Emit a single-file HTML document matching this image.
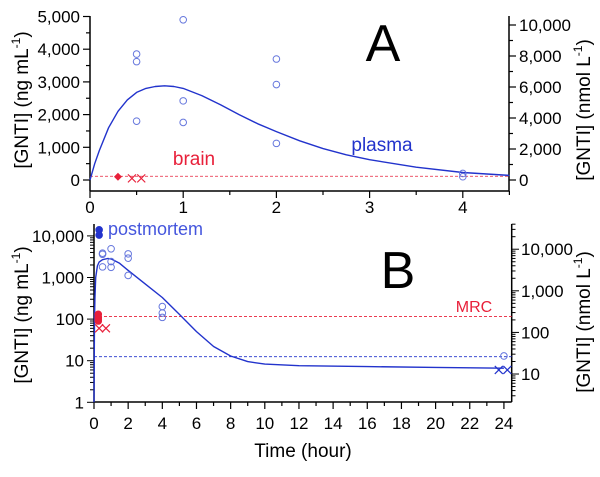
<!DOCTYPE html>
<html><head><meta charset="utf-8"><style>
body{margin:0;background:#fff}
svg{display:block;font-family:"Liberation Sans",Arial,sans-serif}
</style></head><body>
<svg id="c" width="600" height="477" viewBox="0 0 600 477"></svg>
<script>
// ---- Panel A data ----
const aTimes=[0.5,0.5,0.5,1,1,1,2,2,2,4,4];
const aPlasma=[3850,3620,1800,4900,2420,1760,3700,2920,1120,200,100];
const aBrainDiamondT=[0.3], aBrainDiamondV=[100];
const aBrainXT=[0.45,0.55], aBrainXV=[50,50];
const aCurveT=[0,0.05,0.1,0.2,0.3,0.4,0.5,0.6,0.7,0.8,0.9,1.0,1.2,1.4,1.6,1.8,2.0,2.25,2.5,2.75,3.0,3.5,4.0,4.5];
const aCurveV=[0,500,900,1600,2100,2450,2680,2800,2860,2880,2860,2800,2580,2300,2000,1720,1480,1200,960,770,620,390,230,140];
const aXTicks=[0,1,2,3,4], aYTicks=[0,1000,2000,3000,4000,5000], aRTicks=[0,2000,4000,6000,8000,10000];
const mrc=115;
// ---- Panel B data ----
const bTimes=[0.5,0.5,0.5,1,1,1,2,2,2,4,4,4,24];
const bPlasma=[3850,3620,1800,4900,2420,1760,3700,2920,1120,200,140,110,13];
const bPostT=[0.3,0.3], bPostV=[14000,10500];
const bBrainT=[0.25,0.25,0.25,0.25], bBrainV=[130,110,100,90];
const bBrainXT=[0.3,0.7], bBrainXV=[60,60];
const bLowXT=[23.7,24.2], bLowXV=[6,6];
const bCurveT=[0,0.03,0.05,0.1,0.2,0.3,0.5,0.8,1,1.5,2,3,4,5,6,7,8,9,10,12,16,20,24];
const bCurveV=[1,100,300,1000,1900,2350,2680,2870,2800,2200,1480,700,330,130,50,22,13,9.5,8.3,7.6,7.2,6.9,6.6];
const lod=12.5;
const bXTicks=[0,2,4,6,8,10,12,14,16,18,20,22,24];
const bYTicks=[1,10,100,1000,10000], bRTicks=[10,100,1000,10000];
const ratio=2.09;

const NS="http://www.w3.org/2000/svg", svg=document.getElementById('c');
function mk(tag,at,parent){const e=document.createElementNS(NS,tag);for(const k in at)e.setAttribute(k,at[k]);(parent||svg).appendChild(e);return e;}
const BLUE="#2233cc", LBLUE="#6677dd", RED="#e8203a";
const fmt=v=>v.toLocaleString('en-US');

const axA=t=>90+t*93.2, ayA=v=>180-v*0.0327, ayAR=n=>180-n*0.0155;
const axB=t=>94+t*17.08, ayB=v=>402.3-Math.log10(v)*41.6, ayBR=n=>ayB(n/ratio);

function line(x1,y1,x2,y2,c,w,dash,name){const l=mk('line',{x1,y1,x2,y2,stroke:c,'stroke-width':w||1});if(dash)l.setAttribute('stroke-dasharray',dash);return l;}
function text(x,y,s,size,anchor,fill,name){const t=mk('text',{x,y,'font-size':size,'text-anchor':anchor||'middle',fill:fill||'#000'});t.textContent=s;return t;}
function circle(x,y,fill,name){const c=mk('circle',{cx:x,cy:y,r:3.3,fill:fill?fill:'none',stroke:fill?fill:LBLUE,'stroke-width':1});}
function cross(x,y,c,name){const p=mk('path',{d:`M${x-4},${y-4}L${x+4},${y+4}M${x-4},${y+4}L${x+4},${y-4}`,stroke:c,'stroke-width':1.2,fill:'none'});}
function ylabel(x,y,main,name){const t=mk('text',{transform:`translate(${x},${y}) rotate(-90)`,'font-size':19,'text-anchor':'middle'});t.innerHTML=`[GNTI] (${main}<tspan font-size="12" dy="-8">-1</tspan><tspan dy="8">)</tspan>`;}

// ===== Panel A =====
line(90,16,90,191,'#000',1.5,null,'a-left-axis');
line(509,16,509,191,'#000',1.5,null,'a-right-axis');
line(90,191,509,191,'#000',1.5,null,'a-x-axis');
for(let t=0;t<=4.5;t+=0.5){const big=Number.isInteger(t);line(axA(t),191,axA(t),big?198:195,'#000',1.2,null,'a-x-tick');}
aXTicks.forEach(t=>text(axA(t),213,String(t),17,'middle','#000','a-x-tick-label'));
for(let v=0;v<=5000;v+=500){const big=v%1000===0;line(90,ayA(v),big?83:86,ayA(v),'#000',1.2,null,'a-y-tick');}
aYTicks.forEach(v=>text(80,ayA(v)+6,fmt(v),17,'end','#000','a-y-tick-label'));
for(let n=0;n<=10000;n+=1000){const big=n%2000===0;line(509,ayAR(n),big?516:513,ayAR(n),'#000',1.2,null,'a-right-tick');}
aRTicks.forEach(n=>text(519,ayAR(n)+6,fmt(n),17,'start','#000','a-right-tick-label'));
ylabel(28,100,'ng mL','a-left-axis-title');
ylabel(590,110,'nmol L','a-right-axis-title');
line(90,ayA(mrc),509,ayA(mrc),RED,0.8,'3,2','a-mrc-line');
{let d='';aCurveT.forEach((t,i)=>d+=(i?'L':'M')+axA(t).toFixed(1)+','+ayA(aCurveV[i]).toFixed(1));const p=mk('path',{d,fill:'none',stroke:BLUE,'stroke-width':1.4,'stroke-linejoin':'round'});}
aTimes.forEach((t,i)=>circle(axA(t),ayA(aPlasma[i]),null,'a-plasma-point'));
aBrainDiamondT.forEach((t,i)=>{const x=axA(t),y=ayA(aBrainDiamondV[i]);const p=mk('path',{d:`M${x},${y-4}L${x+4},${y}L${x},${y+4}L${x-4},${y}Z`,fill:RED});});
aBrainXT.forEach((t,i)=>cross(axA(t),ayA(aBrainXV[i]),RED,'a-brain-cross'));
text(383,61,'A',52,'middle','#000','a-panel-label');
text(382,151,'plasma',19,'middle',BLUE,'a-plasma-label');
text(194,165,'brain',19,'middle',RED,'a-brain-label');

// ===== Panel B =====
line(94,224,94,402,'#000',1.5,null,'b-left-axis');
line(511.7,224,511.7,402,'#000',1.5,null,'b-right-axis');
line(94,402,511.7,402,'#000',1.5,null,'b-x-axis');
for(let t=0;t<=24;t+=1){const big=t%2===0;line(axB(t),402,axB(t),big?409:406,'#000',1.2,null,'b-x-tick');}
bXTicks.forEach(t=>text(axB(t),429,String(t),17,'middle','#000','b-x-tick-label'));
for(let d=1;d<=10000;d*=10){for(let m=1;m<10;m++){const v=d*m;const y=ayB(v);if(y<224)break;line(94,y,m===1?87:90,y,'#000',1,null,'b-y-tick');}}
bYTicks.forEach(v=>text(84,ayB(v)+6,fmt(v),17,'end','#000','b-y-tick-label'));
for(let d=1;d<=10000;d*=10){for(let m=1;m<10;m++){const n=d*m;const y=ayBR(n);if(y>402||y<224)continue;line(511.7,y,m===1?519:515.5,y,'#000',1,null,'b-right-tick');}}
bRTicks.forEach(n=>text(521,ayBR(n)+6,fmt(n),17,'start','#000','b-right-tick-label'));
ylabel(28,315,'ng mL','b-left-axis-title');
ylabel(590,322,'nmol L','b-right-axis-title');
line(94,ayB(mrc),511.7,ayB(mrc),RED,0.8,'3,2','b-mrc-line');
line(94,ayB(lod),511.7,ayB(lod),BLUE,0.8,'3,2','b-lod-line');
{let d='';bCurveT.forEach((t,i)=>d+=(i?'L':'M')+axB(t).toFixed(1)+','+ayB(bCurveV[i]).toFixed(1));const p=mk('path',{d,fill:'none',stroke:BLUE,'stroke-width':1.4,'stroke-linejoin':'round'});}
bTimes.forEach((t,i)=>circle(axB(t),ayB(bPlasma[i]),null,'b-plasma-point'));
bPostT.forEach((t,i)=>circle(axB(t),ayB(bPostV[i]),BLUE,'b-postmortem-point'));
bBrainT.forEach((t,i)=>circle(axB(t),ayB(bBrainV[i]),RED,'b-brain-point'));
bBrainXT.forEach((t,i)=>cross(axB(t),ayB(bBrainXV[i]),RED,'b-brain-cross'));
bLowXT.forEach((t,i)=>cross(axB(t),ayB(bLowXV[i]),BLUE,'b-plasma-cross'));
text(108,235,'postmortem',18,'start','#4455dd','b-postmortem-label');
text(398,288,'B',52,'middle','#000','b-panel-label');
text(474,312,'MRC',16,'middle',RED,'b-mrc-label');
text(303,457,'Time (hour)',19,'middle','#000','x-axis-title');
</script>
</body></html>
